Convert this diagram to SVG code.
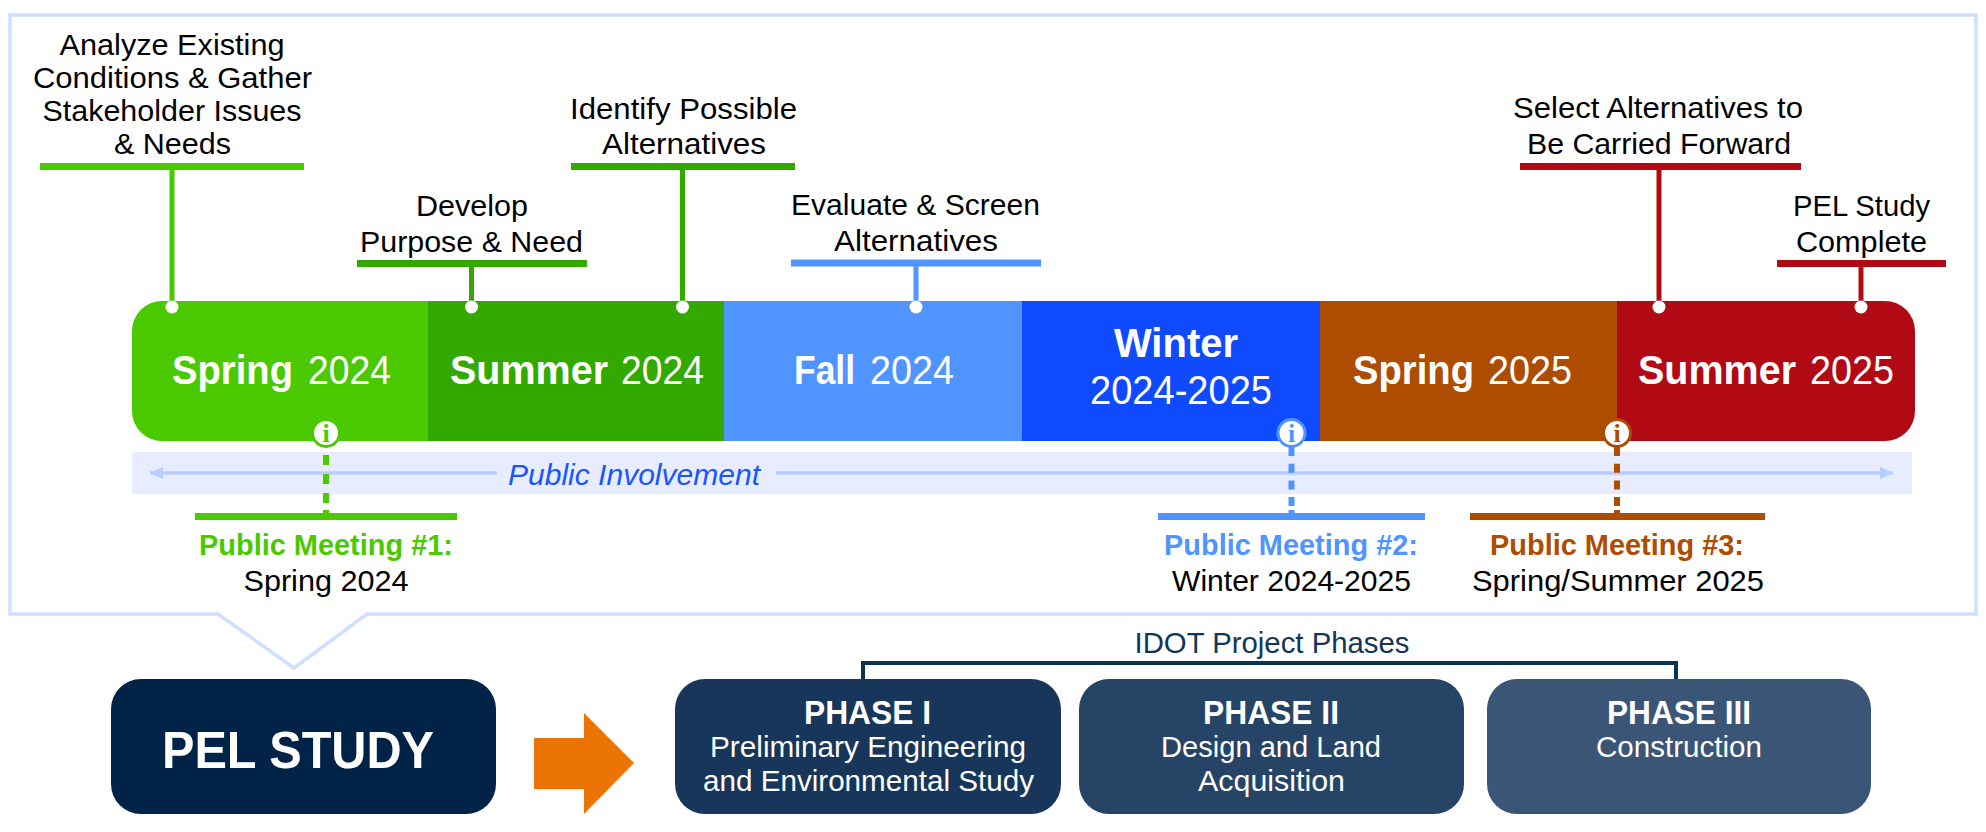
<svg xmlns="http://www.w3.org/2000/svg" width="1986" height="832" viewBox="0 0 1986 832">
<style>
text{font-family:"Liberation Sans",Arial,sans-serif}
.k{font-size:30px;fill:#000;text-anchor:middle}
.s{font-size:40px;fill:#fff}
.b{font-weight:700}
.m{font-size:30px;font-weight:700;text-anchor:middle}
.w{fill:#fff;text-anchor:middle}
.h{font-size:34px;font-weight:700}
.t{font-size:29px}
.i{font-family:"Liberation Serif",serif;font-size:26px;font-weight:700;text-anchor:middle}
.dot{fill:#fff;stroke:none}
</style>
<defs>
<marker id="ah" markerUnits="userSpaceOnUse" markerWidth="14" markerHeight="14" refX="13" refY="7" orient="auto-start-reverse"><path d="M0 1L13 7L0 13Z" fill="#b8cdff"/></marker>
</defs>
<path id="frame" d="M10 15H1976V614H367L294 668L218 614H10Z" fill="#fff" stroke="#cfe0ff" stroke-width="3.5"/>
<g id="timeline-bar">
<path id="seg-spring-2024" d="M428.500 301V441H162A30 30 0 0 1 132 411V331A30 30 0 0 1 162 301Z" fill="#4ac900"/>
<rect id="seg-summer-2024" x="428" y="301" width="296" height="140" fill="#33a900"/>
<rect id="seg-fall-2024" x="724" y="301" width="298" height="140" fill="#4f94ff"/>
<rect id="seg-winter" x="1022" y="301" width="298" height="140" fill="#0f4aff"/>
<rect id="seg-spring-2025" x="1320" y="301" width="297" height="140" fill="#ae4c00"/>
<path id="seg-summer-2025" d="M1617 301H1885A30 30 0 0 1 1915 331V411A30 30 0 0 1 1885 441H1617Z" fill="#b10a15"/>
<text class="s" y="384"><tspan class="b" x="172" textLength="121" lengthAdjust="spacingAndGlyphs">Spring</tspan> <tspan x="308" textLength="83" lengthAdjust="spacingAndGlyphs">2024</tspan></text>
<text class="s" y="384"><tspan class="b" x="450" textLength="158" lengthAdjust="spacingAndGlyphs">Summer</tspan> <tspan x="621" textLength="83" lengthAdjust="spacingAndGlyphs">2024</tspan></text>
<text class="s" y="384"><tspan class="b" x="794" textLength="61" lengthAdjust="spacingAndGlyphs">Fall</tspan> <tspan x="870" textLength="84" lengthAdjust="spacingAndGlyphs">2024</tspan></text>
<text class="s b" x="1114" y="357" textLength="124" lengthAdjust="spacingAndGlyphs">Winter</text>
<text class="s" x="1090" y="404" textLength="182" lengthAdjust="spacingAndGlyphs">2024-2025</text>
<text class="s" y="384"><tspan class="b" x="1353" textLength="121" lengthAdjust="spacingAndGlyphs">Spring</tspan> <tspan x="1488" textLength="84" lengthAdjust="spacingAndGlyphs">2025</tspan></text>
<text class="s" y="384"><tspan class="b" x="1638" textLength="158" lengthAdjust="spacingAndGlyphs">Summer</tspan> <tspan x="1810" textLength="84" lengthAdjust="spacingAndGlyphs">2025</tspan></text>
</g>
<g id="public-involvement">
<rect x="132" y="452" width="1780" height="42" fill="#e7edff"/>
<text x="508" y="485" font-size="29" font-style="italic" fill="#1a55ff" textLength="252" lengthAdjust="spacingAndGlyphs">Public Involvement</text>
</g>
<g id="connectors" fill="none">
<g stroke="#b8cdff" stroke-width="3.500">
<path d="M497 473H150" marker-end="url(#ah)"/>
<path d="M776 473H1893" marker-end="url(#ah)"/>
</g>
<g stroke-width="5">
<path d="M172 168V301" stroke="#4ac900"/>
<path d="M471.500 265V301" stroke="#33a900"/>
<path d="M682.500 168V301" stroke="#33a900"/>
<path d="M916 265V301" stroke="#4f94ff"/>
<path d="M1659 168V301" stroke="#b10a15"/>
<path d="M1861 265V301" stroke="#b10a15"/>
</g>
<g stroke-width="6">
<path d="M326 455V503M326 510V514" stroke="#4ac900" stroke-dasharray="10 9"/>
<path d="M1291.500 447V506M1291.500 510V514" stroke="#4f94ff" stroke-dasharray="9 7.700"/>
<path d="M1617 447V506M1617 510V514" stroke="#ae4c00" stroke-dasharray="9 7.700"/>
</g>
<path d="M863 679V663H1676V679" stroke="#0a3352" stroke-width="4"/>
</g>
<g id="ms-analyze">
<rect x="40" y="163" width="264" height="7" fill="#4ac900"/>
<circle class="dot" cx="172" cy="307" r="6.500"/>
<text class="k" x="172" y="55" textLength="225" lengthAdjust="spacingAndGlyphs">Analyze Existing</text>
<text class="k" x="172.500" y="88" textLength="279" lengthAdjust="spacingAndGlyphs">Conditions &amp; Gather</text>
<text class="k" x="172" y="121" textLength="259" lengthAdjust="spacingAndGlyphs">Stakeholder Issues</text>
<text class="k" x="172.500" y="154" textLength="117" lengthAdjust="spacingAndGlyphs">&amp; Needs</text>
</g>
<g id="ms-develop">
<rect x="357" y="260" width="230" height="7" fill="#33a900"/>
<circle class="dot" cx="471.500" cy="307" r="6.500"/>
<text class="k" x="472" y="216" textLength="112" lengthAdjust="spacingAndGlyphs">Develop</text>
<text class="k" x="471.500" y="252" textLength="223" lengthAdjust="spacingAndGlyphs">Purpose &amp; Need</text>
</g>
<g id="ms-identify">
<rect x="571" y="163" width="224" height="7" fill="#33a900"/>
<circle class="dot" cx="682.500" cy="307" r="6.500"/>
<text class="k" x="683.500" y="119" textLength="227" lengthAdjust="spacingAndGlyphs">Identify Possible</text>
<text class="k" x="684" y="154" textLength="164" lengthAdjust="spacingAndGlyphs">Alternatives</text>
</g>
<g id="ms-evaluate">
<rect x="791" y="259.500" width="250" height="7" fill="#4f94ff"/>
<circle class="dot" cx="916" cy="307" r="6.500"/>
<text class="k" x="915.500" y="215" textLength="249" lengthAdjust="spacingAndGlyphs">Evaluate &amp; Screen</text>
<text class="k" x="916" y="251" textLength="164" lengthAdjust="spacingAndGlyphs">Alternatives</text>
</g>
<g id="ms-select">
<rect x="1520" y="163" width="281" height="7" fill="#b10a15"/>
<circle class="dot" cx="1659" cy="307" r="6.500"/>
<text class="k" x="1658" y="118" textLength="290" lengthAdjust="spacingAndGlyphs">Select Alternatives to</text>
<text class="k" x="1659" y="154" textLength="264" lengthAdjust="spacingAndGlyphs">Be Carried Forward</text>
</g>
<g id="ms-complete">
<rect x="1777" y="260" width="169" height="7" fill="#b10a15"/>
<circle class="dot" cx="1861" cy="307" r="6.500"/>
<text class="k" x="1861.500" y="216" textLength="137" lengthAdjust="spacingAndGlyphs">PEL Study</text>
<text class="k" x="1861.500" y="252" textLength="131" lengthAdjust="spacingAndGlyphs">Complete</text>
</g>
<g id="meeting-1">
<circle cx="326" cy="433" r="13.500" fill="#fff" stroke="#4ac900" stroke-width="3"/>
<text class="i" x="326" y="442" fill="#4ac900">i</text>
<rect x="195" y="513" width="262" height="7" fill="#4ac900"/>
<text class="m" x="326" y="555" fill="#4ac900" textLength="254" lengthAdjust="spacingAndGlyphs">Public Meeting #1:</text>
<text class="k" x="326" y="591" textLength="165" lengthAdjust="spacingAndGlyphs">Spring 2024</text>
</g>
<g id="meeting-2">
<circle cx="1291.500" cy="433" r="13.500" fill="#fff" stroke="#4f94ff" stroke-width="3"/>
<text class="i" x="1291.500" y="442" fill="#4f94ff">i</text>
<rect x="1158" y="513" width="267" height="7" fill="#4f94ff"/>
<text class="m" x="1291" y="555" fill="#4f94ff" textLength="254" lengthAdjust="spacingAndGlyphs">Public Meeting #2:</text>
<text class="k" x="1291.500" y="591" textLength="239" lengthAdjust="spacingAndGlyphs">Winter 2024-2025</text>
</g>
<g id="meeting-3">
<circle cx="1617" cy="433" r="13.500" fill="#fff" stroke="#ae4c00" stroke-width="3"/>
<text class="i" x="1617" y="442" fill="#ae4c00">i</text>
<rect x="1470" y="513" width="295" height="7" fill="#ae4c00"/>
<text class="m" x="1617" y="555" fill="#ae4c00" textLength="254" lengthAdjust="spacingAndGlyphs">Public Meeting #3:</text>
<text class="k" x="1618" y="591" textLength="292" lengthAdjust="spacingAndGlyphs">Spring/Summer 2025</text>
</g>
<g id="pel-study">
<rect x="111" y="679" width="385" height="135" rx="30" fill="#002347"/>
<text class="w b" x="298" y="768" font-size="52" textLength="272" lengthAdjust="spacingAndGlyphs">PEL STUDY</text>
</g>
<path id="next-arrow" d="M534 738H584V713L634 763L584 814V789H534Z" fill="#ec7404"/>
<text id="phases-label" x="1272" y="653" font-size="30" fill="#12365a" text-anchor="middle" textLength="275" lengthAdjust="spacingAndGlyphs">IDOT Project Phases</text>
<g id="phase-1">
<rect x="675" y="679" width="386" height="135" rx="30" fill="#173659"/>
<text class="w h" x="867.500" y="724" textLength="127" lengthAdjust="spacingAndGlyphs">PHASE I</text>
<text class="w t" x="868" y="757" textLength="316" lengthAdjust="spacingAndGlyphs">Preliminary Engineering</text>
<text class="w t" x="868.500" y="791" textLength="331" lengthAdjust="spacingAndGlyphs">and Environmental Study</text>
</g>
<g id="phase-2">
<rect x="1079" y="679" width="385" height="135" rx="30" fill="#254466"/>
<text class="w h" x="1271" y="724" textLength="136" lengthAdjust="spacingAndGlyphs">PHASE II</text>
<text class="w t" x="1271" y="757" textLength="220" lengthAdjust="spacingAndGlyphs">Design and Land</text>
<text class="w t" x="1271.500" y="791" textLength="147" lengthAdjust="spacingAndGlyphs">Acquisition</text>
</g>
<g id="phase-3">
<rect x="1487" y="679" width="384" height="135" rx="30" fill="#3a5576"/>
<text class="w h" x="1679" y="724" textLength="144" lengthAdjust="spacingAndGlyphs">PHASE III</text>
<text class="w t" x="1679" y="757" textLength="166" lengthAdjust="spacingAndGlyphs">Construction</text>
</g>
</svg>
